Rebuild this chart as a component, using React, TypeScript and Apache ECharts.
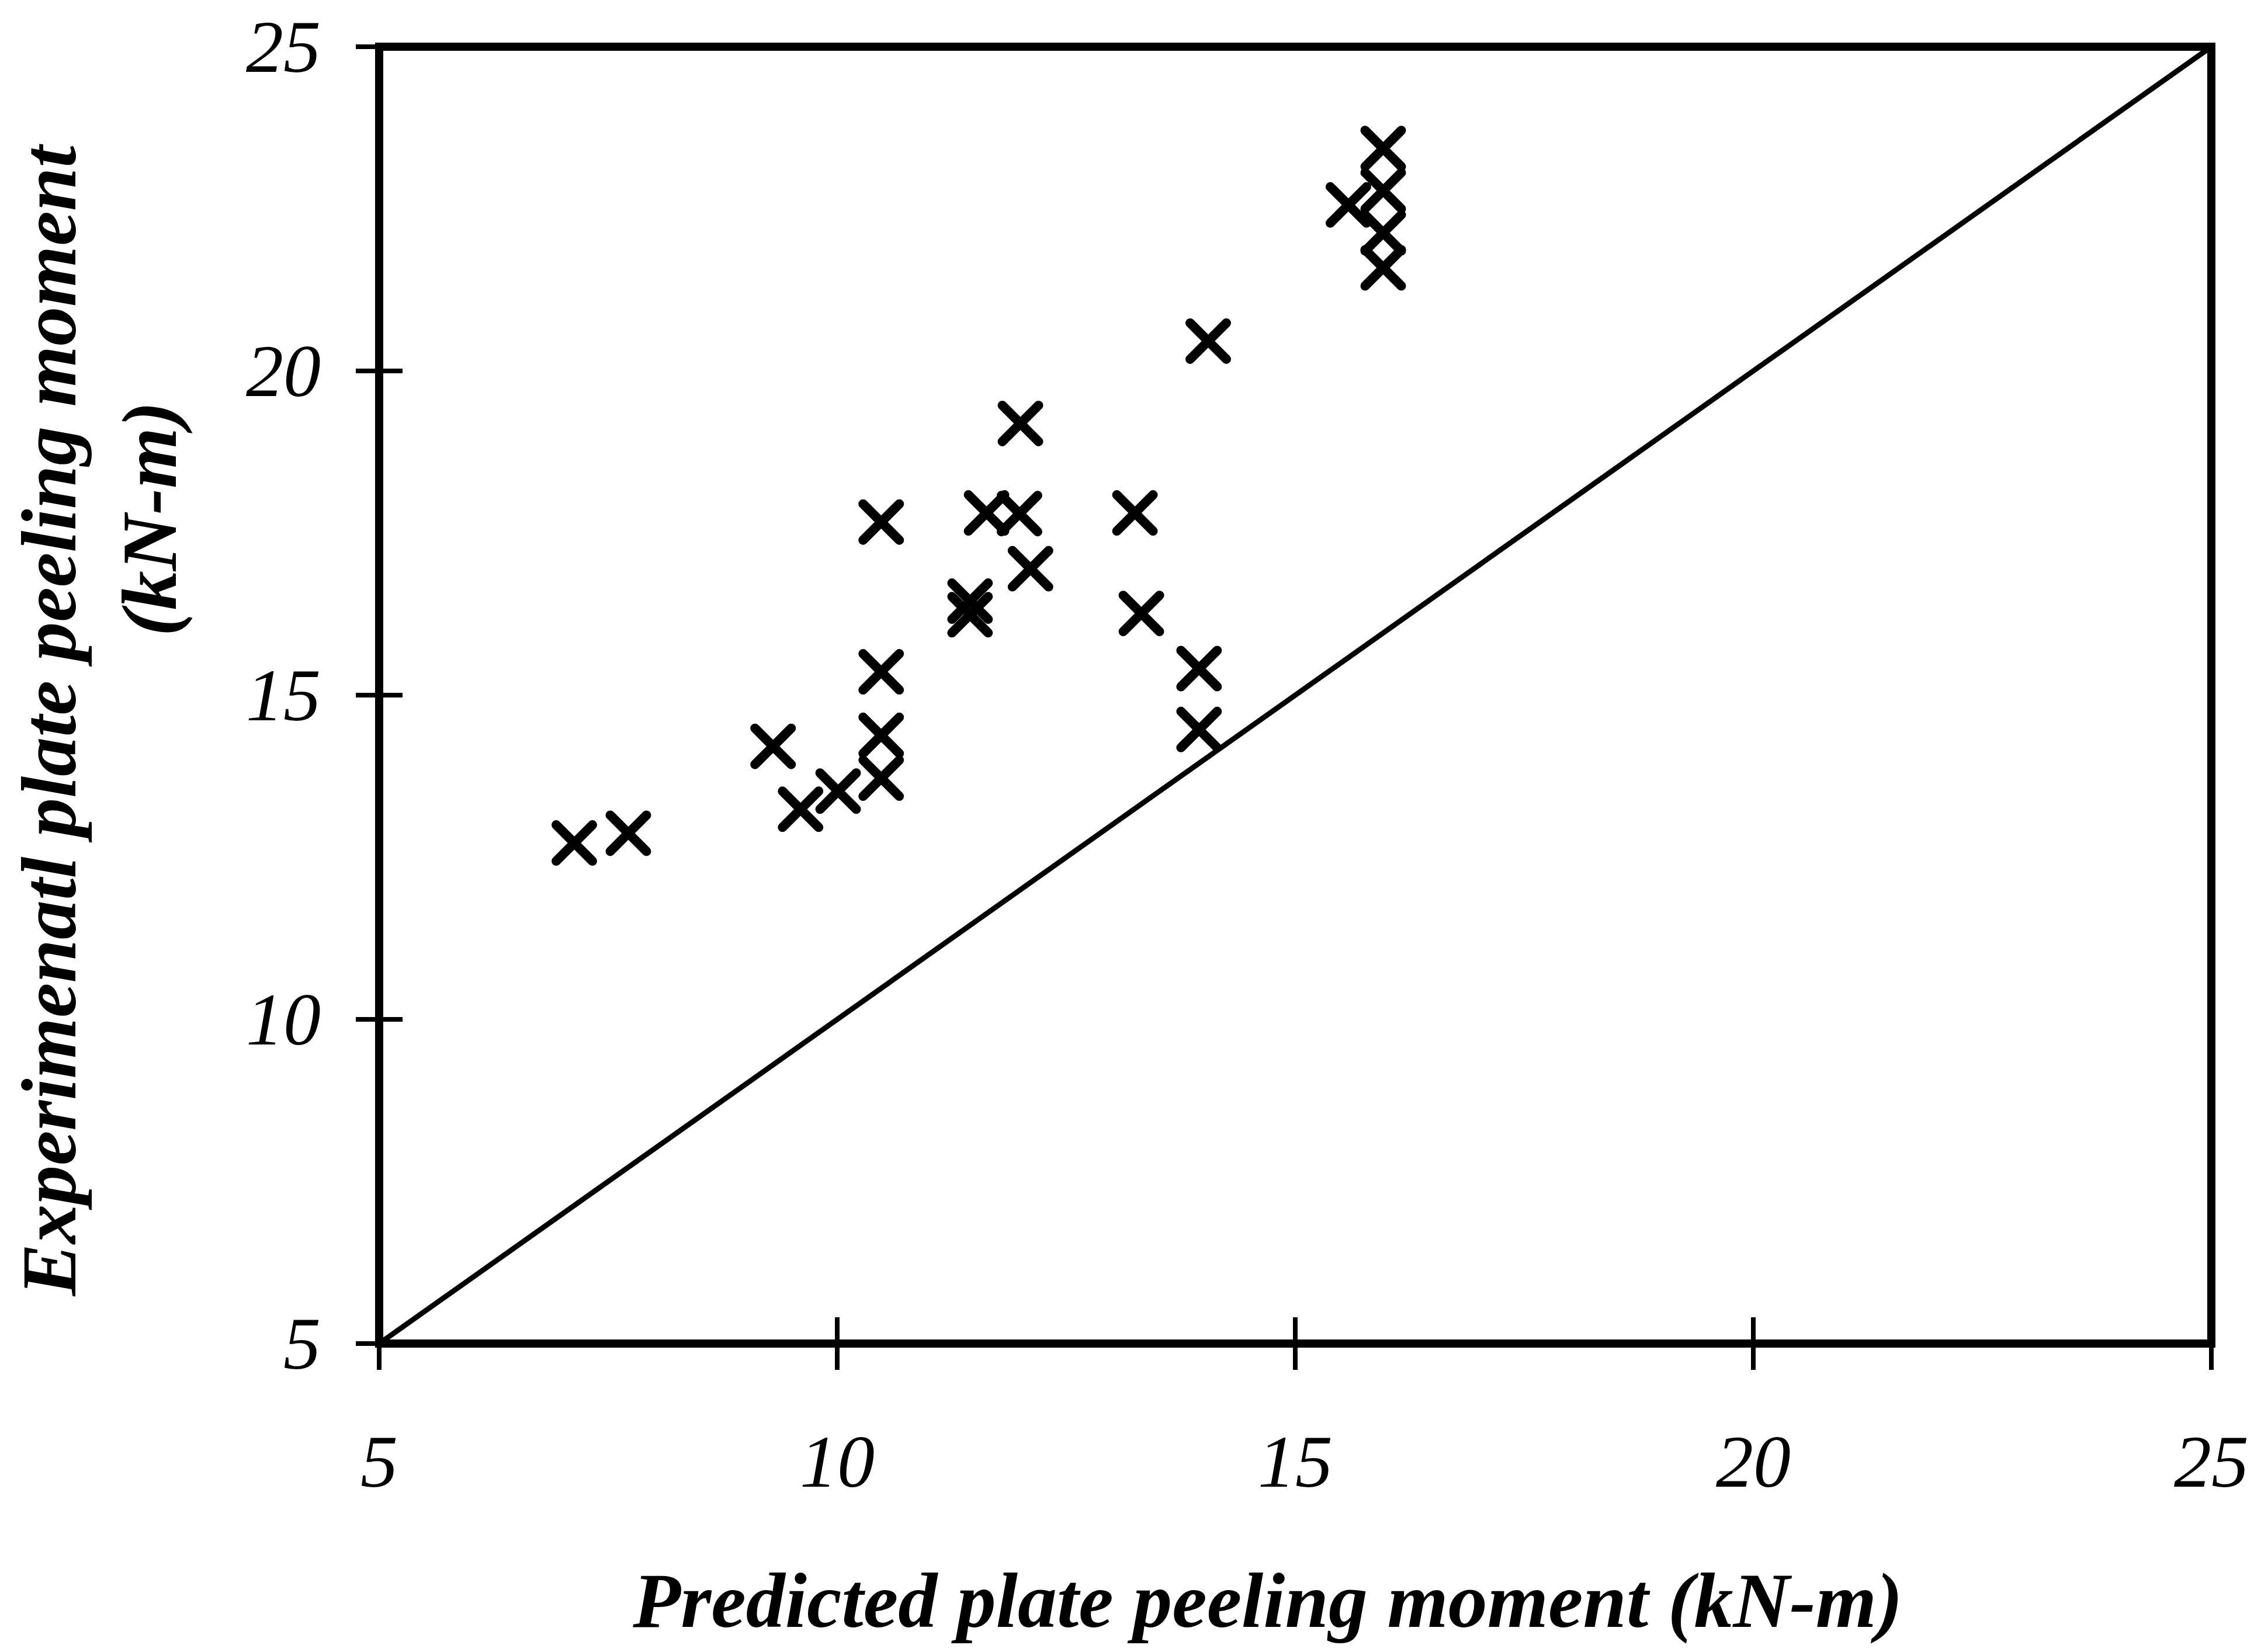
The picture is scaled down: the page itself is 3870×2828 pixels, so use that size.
import React, { useEffect, useRef } from "react";
import * as echarts from "echarts";

// Predicted (x) and experimental (y) plate peeling moments, kN-m
const predicted = [
  7.13, 7.72, 9.3, 9.6, 10.01, 10.48, 10.48, 10.48, 10.48, 11.45, 11.45, 11.63,
  11.99, 12.0, 12.11, 13.25, 13.32, 13.95, 13.95, 14.05, 15.58, 15.96, 15.96,
  15.96, 15.96,
];
const experimental = [
  12.72, 12.87, 14.21, 13.24, 13.52, 17.67, 15.36, 14.38, 13.72, 16.24, 16.45,
  17.81, 17.8, 19.19, 16.95, 17.81, 16.26, 15.41, 14.47, 20.46, 22.56, 23.43,
  22.78, 22.13, 21.59,
];

// Line of equality
const diagX = [5, 25];
const diagY = [5, 25];

const axisMin = 5;
const axisMax = 25;
const axisStep = 5;

const xTitle = "Predicted plate peeling moment (kN-m)";
const yTitleLine1 = "Experimenatl plate peeling moment";
const yTitleLine2 = "(kN-m)";

export default function App() {
  const ref = useRef<HTMLDivElement>(null);

  useEffect(() => {
    document.body.style.margin = "0";
    if (!ref.current) return;
    const chart = echarts.init(ref.current, null, { renderer: "svg" });

    const labelFont = {
      fontFamily: "Liberation Serif",
      fontStyle: "italic",
      fontSize: 128,
      color: "#000",
    };
    const tickStyle = { color: "#000", width: 8 };
    const baseAxis = {
      type: "value",
      min: axisMin,
      max: axisMax,
      interval: axisStep,
      splitLine: { show: false },
      axisLine: { show: false },
    };

    const points = predicted.map((x, i) => [x, experimental[i]]);
    const diag = diagX.map((x, i) => [x, diagY[i]]);

    const titleStyle = {
      fontFamily: "Liberation Serif",
      fontStyle: "italic",
      fontWeight: "bold",
      fontSize: 134,
      fill: "#000",
      align: "center",
      verticalAlign: "middle",
    };

    chart.setOption({
      animation: false,
      backgroundColor: "#fff",
      grid: {
        left: 649,
        top: 80,
        right: 85,
        bottom: 528,
        show: true,
        borderColor: "#000",
        borderWidth: 14,
        backgroundColor: "transparent",
      },
      xAxis: [
        {
          ...baseAxis,
          position: "bottom",
          axisTick: { show: true, length: 45, lineStyle: tickStyle },
          axisLabel: { ...labelFont, margin: 138 },
        },
        {
          ...baseAxis,
          position: "bottom",
          axisTick: { show: true, inside: true, length: 45, lineStyle: tickStyle },
          axisLabel: { show: false },
        },
      ],
      yAxis: [
        {
          ...baseAxis,
          position: "left",
          axisTick: { show: true, length: 40, lineStyle: tickStyle },
          axisLabel: { ...labelFont, margin: 100 },
        },
        {
          ...baseAxis,
          position: "left",
          axisTick: { show: true, inside: true, length: 40, lineStyle: tickStyle },
          axisLabel: { show: false },
        },
      ],
      series: [
        {
          type: "line",
          data: diag,
          symbol: "none",
          silent: true,
          lineStyle: { color: "#000", width: 9 },
          z: 2,
        },
        {
          type: "scatter",
          data: points,
          symbol: "path://M0,0L10,10M10,0L0,10",
          symbolSize: 62,
          itemStyle: {
            color: "#000",
            borderColor: "#000",
            borderWidth: 16,
            borderCap: "round",
            opacity: 1,
          },
          z: 3,
        },
      ],
      graphic: [
        {
          type: "text",
          x: 2170,
          y: 2740,
          style: { ...titleStyle, text: xTitle },
        },
        {
          type: "text",
          x: 84,
          y: 1234,
          rotation: Math.PI / 2,
          style: { ...titleStyle, text: yTitleLine1 },
        },
        {
          type: "text",
          x: 256,
          y: 888,
          rotation: Math.PI / 2,
          style: { ...titleStyle, text: yTitleLine2 },
        },
      ],
    });

    return () => chart.dispose();
  }, []);

  return <div ref={ref} style={{ width: 3870, height: 2828 }} />;
}
